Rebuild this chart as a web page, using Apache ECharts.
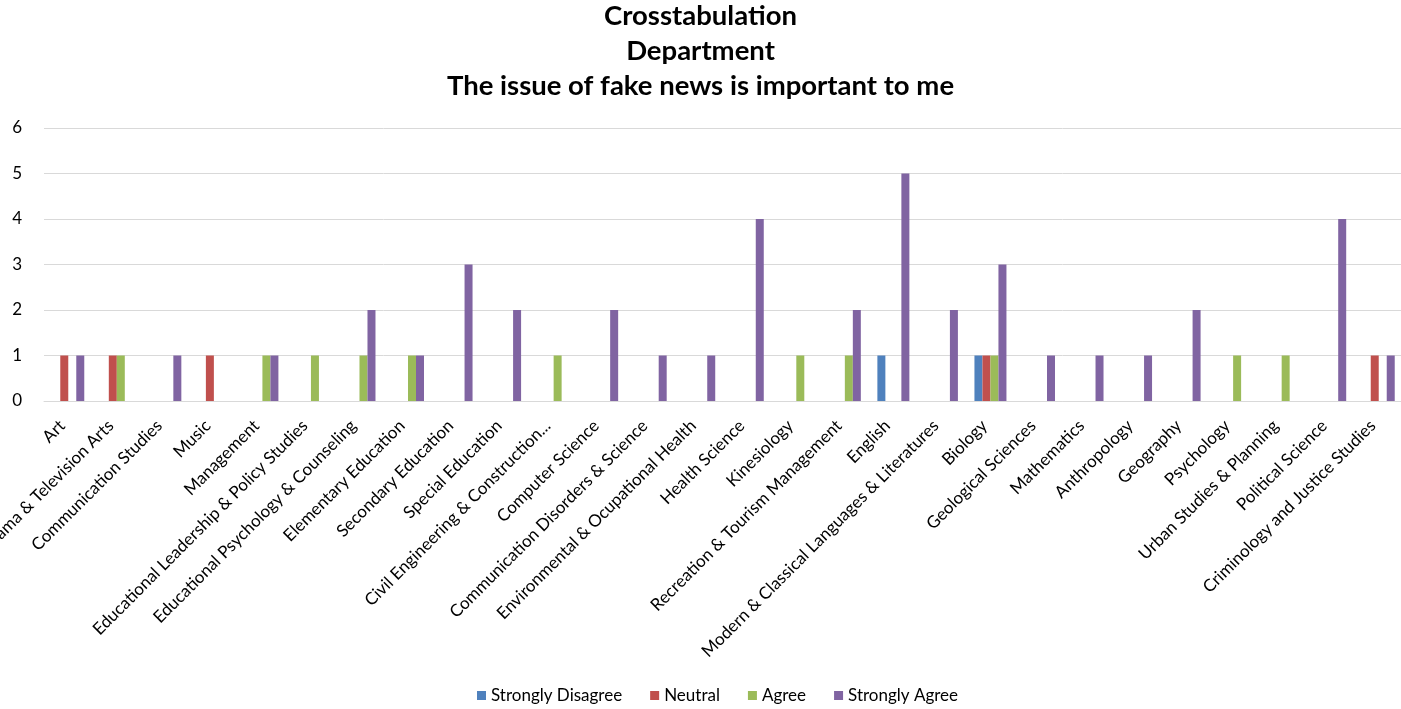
<!DOCTYPE html>
<html><head><meta charset="utf-8">
<script src="https://cdn.jsdelivr.net/npm/echarts@6/dist/echarts.min.js"></script>
<style>html,body{margin:0;padding:0;background:#fff}#c{width:1401px;height:709px}</style>
</head><body><div id="c"></div>
<script>
const categories = ["Art","Drama & Television Arts","Communication Studies","Music","Management","Educational Leadership & Policy Studies","Educational Psychology & Counseling","Elementary Education","Secondary Education","Special Education","Civil Engineering & Construction...","Computer Science","Communication Disorders & Science","Environmental & Ocupational Health","Health Science","Kinesiology","Recreation & Tourism Management","English","Modern & Classical Languages & Literatures","Biology","Geological Sciences","Mathematics","Anthropology","Geography","Psychology","Urban Studies & Planning","Political Science","Criminology and Justice Studies"];
const stronglyDisagree = [0,0,0,0,0,0,0,0,0,0,0,0,0,0,0,0,0,1,0,1,0,0,0,0,0,0,0,0];
const neutral          = [1,1,0,1,0,0,0,0,0,0,0,0,0,0,0,0,0,0,0,1,0,0,0,0,0,0,0,1];
const agree            = [0,1,0,0,1,1,1,1,0,0,1,0,0,0,0,1,1,0,0,1,0,0,0,0,1,1,0,0];
const stronglyAgree    = [1,0,1,0,1,0,2,1,3,2,0,2,1,1,4,0,2,5,2,3,1,1,1,2,0,0,4,1];
const yTicks = [0,1,2,3,4,5,6];
const seriesNames = ["Strongly Disagree","Neutral","Agree","Strongly Agree"];
const seriesData = [stronglyDisagree, neutral, agree, stronglyAgree];
const colors = ["#4F81BD","#C0504D","#9BBB59","#8064A2"];
const FONT = "Lato, 'Open Sans', sans-serif";

const chart = echarts.init(document.getElementById('c'), null, {renderer:'canvas'});
chart.setOption({
  animation:false,
  color: colors,
  title: {
    text: "Crosstabulation\nDepartment\nThe issue of fake news is important to me",
    left: 'center', top: -6,
    textStyle: {fontFamily: FONT, fontSize: 27.5, fontWeight: 'bold', color: '#000', lineHeight: 35}
  },
  legend: {
    bottom: 0, left: 472, itemWidth: 9, itemHeight: 9, itemGap: 28, icon: 'rect',
    textStyle: {fontFamily: FONT, fontSize: 17, color: '#000'},
    data: seriesNames
  },
  grid: {left: 44, width: 1359, top: 128, bottom: 308, containLabel: false, outerBoundsMode: 'none'},
  xAxis: {
    type: 'category', data: categories,
    axisLine: {show: true, lineStyle: {color: '#D9D9D9', width: 1}},
    axisTick: {show: false},
    axisLabel: {interval: 0, rotate: 45, fontFamily: FONT, fontSize: 17, color: '#000', margin: 28, verticalAlign: 'bottom'}
  },
  yAxis: {
    type: 'value', min: yTicks[0], max: yTicks[yTicks.length-1], interval: 1,
    axisLine: {show: false}, axisTick: {show: false},
    splitLine: {lineStyle: {color: '#D9D9D9', width: 1}},
    axisLabel: {fontFamily: FONT, fontSize: 17, color: '#000', margin: 22}
  },
  series: seriesNames.map((n,i)=>({
    name: n, type: 'bar', data: seriesData[i], barWidth: 8, barGap: '0%', barCategoryGap: '34%',
    itemStyle: {color: colors[i]}
  }))
});
</script></body></html>
